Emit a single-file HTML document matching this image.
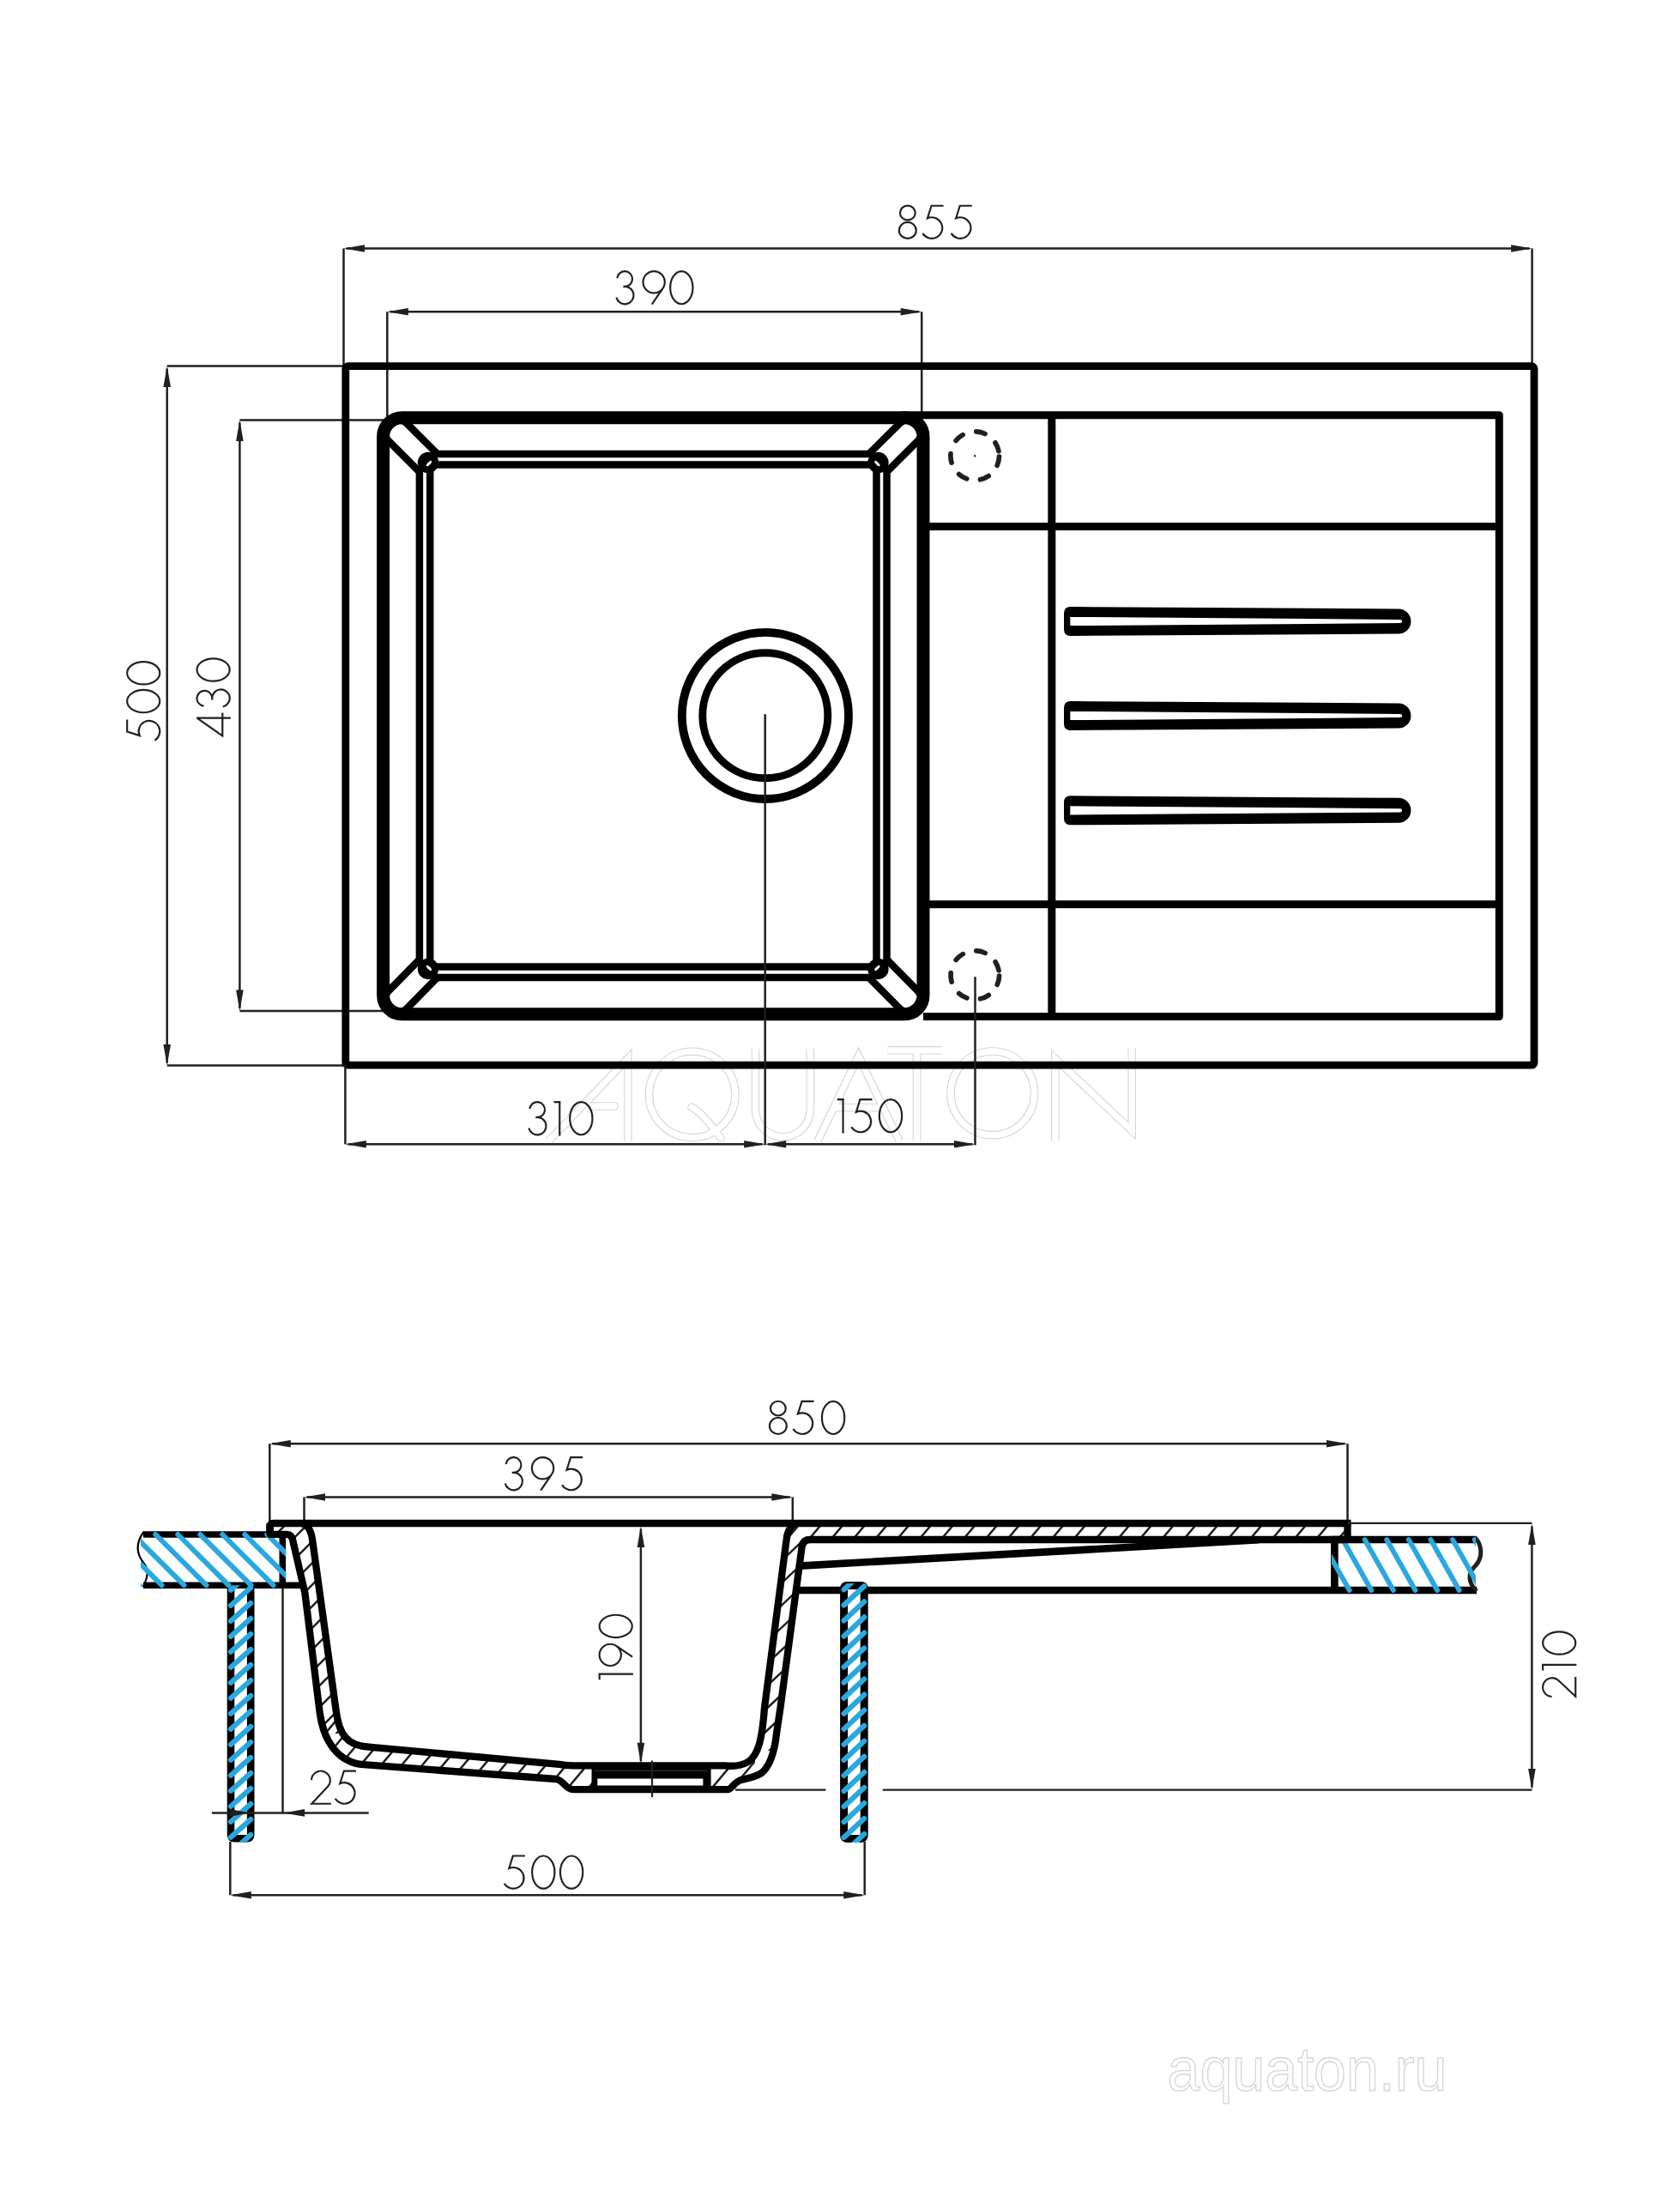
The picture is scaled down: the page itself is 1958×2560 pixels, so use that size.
<!DOCTYPE html><html><head><meta charset="utf-8"><title>Sink drawing</title><style>html,body{margin:0;padding:0;background:#fff;width:1958px;height:2560px;overflow:hidden}</style></head><body><svg width="1958" height="2560" viewBox="0 0 1958 2560" style="display:block"><g fill="none" stroke="#d6d6d6" stroke-width="9.6" stroke-linejoin="miter" stroke-miterlimit="10"><path d="M639.5,1329.5 L731.8,1233.3 V1329.5" stroke-linecap="butt"/><path d="M689,1289 H716" stroke-linecap="round"/><path d="M756.5,1275.4 a50.2,50.2 0 1 0 100.4,0 a50.2,50.2 0 1 0 -100.4,0" stroke-linecap="butt"/><path d="M806,1290 Q818,1296 840,1326" stroke-linecap="round"/><path d="M880.5,1222.3 V1292.8 A31.95,31.95 0 0 0 944.4,1292.8 V1222.3" stroke-linecap="butt"/><path d="M953,1329.5 L1000.6,1230.6 L1048,1329.5" stroke-linecap="butt"/><path d="M972,1290.5 H1029" stroke-linecap="butt"/><path d="M1034.5,1223.8 H1098 M1068.6,1223.8 V1329.5" stroke-linecap="butt"/><path d="M1107.9,1273.8 a48.8,48.8 0 1 0 97.6,0 a48.8,48.8 0 1 0 -97.6,0" stroke-linecap="butt"/><path d="M1229.9,1329.5 V1233.5 L1319.2,1317.5 V1221.4" stroke-linecap="butt"/></g>
<g fill="none" stroke="#fff" stroke-width="7.3" stroke-linejoin="miter" stroke-miterlimit="10"><path d="M639.5,1329.5 L731.8,1233.3 V1329.5" stroke-linecap="butt"/><path d="M689,1289 H716" stroke-linecap="round"/><path d="M756.5,1275.4 a50.2,50.2 0 1 0 100.4,0 a50.2,50.2 0 1 0 -100.4,0" stroke-linecap="butt"/><path d="M806,1290 Q818,1296 840,1326" stroke-linecap="round"/><path d="M880.5,1222.3 V1292.8 A31.95,31.95 0 0 0 944.4,1292.8 V1222.3" stroke-linecap="butt"/><path d="M953,1329.5 L1000.6,1230.6 L1048,1329.5" stroke-linecap="butt"/><path d="M972,1290.5 H1029" stroke-linecap="butt"/><path d="M1034.5,1223.8 H1098 M1068.6,1223.8 V1329.5" stroke-linecap="butt"/><path d="M1107.9,1273.8 a48.8,48.8 0 1 0 97.6,0 a48.8,48.8 0 1 0 -97.6,0" stroke-linecap="butt"/><path d="M1229.9,1329.5 V1233.5 L1319.2,1317.5 V1221.4" stroke-linecap="butt"/></g>
<text x="1360.5" y="2435.5" font-family="&quot;Liberation Sans&quot;, sans-serif" font-size="73" fill="none" stroke="#d6d6d6" stroke-width="1.4" textLength="326" lengthAdjust="spacingAndGlyphs">aquaton.ru</text>
<line x1="400.5" y1="289.5" x2="400.5" y2="440" stroke="#231f20" stroke-width="2.5"/>
<line x1="1785.6" y1="289.5" x2="1785.6" y2="440" stroke="#231f20" stroke-width="2.5"/>
<line x1="403.5" y1="289.5" x2="1782.6" y2="289.5" stroke="#231f20" stroke-width="2.5"/>
<path d="M400.5,289.5 L425,285.2 L425,293.8 Z" fill="#231f20"/>
<path d="M1785.6,289.5 L1761.1,293.8 L1761.1,285.2 Z" fill="#231f20"/>
<g transform="translate(0,238.6)" fill="none" stroke="#231f20" stroke-width="2.15" stroke-miterlimit="3"><path transform="translate(1046.8,0)" d="M2.15,9.45 a8.9,8.35 0 1 0 17.8,0 a8.9,8.35 0 1 0 -17.8,0 M1.1,29.8 a9.95,9.5 0 1 0 19.9,0 a9.95,9.5 0 1 0 -19.9,0"/><path transform="translate(1074.3,0)" d="M25.3,1.15 H10.4 M11.25,1.15 L6.65,15.71 A12.3,12.3 0 1 1 1.11,33.28"/><path transform="translate(1107.5,0)" d="M25.3,1.15 H10.4 M11.25,1.15 L6.65,15.71 A12.3,12.3 0 1 1 1.11,33.28"/></g>
<line x1="451.3" y1="363.3" x2="451.3" y2="518" stroke="#231f20" stroke-width="2.5"/>
<line x1="1074.2" y1="363.3" x2="1074.2" y2="518" stroke="#231f20" stroke-width="2.5"/>
<line x1="454.3" y1="363.3" x2="1071.2" y2="363.3" stroke="#231f20" stroke-width="2.5"/>
<path d="M451.3,363.3 L475.8,359 L475.8,367.6 Z" fill="#231f20"/>
<path d="M1074.2,363.3 L1049.7,367.6 L1049.7,359 Z" fill="#231f20"/>
<g transform="translate(0,315)" fill="none" stroke="#231f20" stroke-width="2.15" stroke-miterlimit="3"><path transform="translate(717.1,0)" d="M2.15,9.07 A8.9,8.9 0 1 1 10.22,18.87 L9.3,19.2 L10.31,18.94 A10.2,10.2 0 1 1 1.26,31.39"/><path transform="translate(748.2,0)" d="M1.3,13.75 a12.65,12.65 0 1 0 25.3,0 a12.65,12.65 0 1 0 -25.3,0 M23.92,21.54 L11.6,39.6"/><path transform="translate(780,0)" d="M1.15,20.2 a13.15,19.05 0 1 0 26.3,0 a13.15,19.05 0 1 0 -26.3,0"/></g>
<line x1="194.7" y1="426.5" x2="402" y2="426.5" stroke="#231f20" stroke-width="2.5"/>
<line x1="194.7" y1="1241.5" x2="402" y2="1241.5" stroke="#231f20" stroke-width="2.5"/>
<line x1="194.7" y1="429.5" x2="194.7" y2="1238.5" stroke="#231f20" stroke-width="2.5"/>
<path d="M194.7,426.5 L199,451 L190.4,451 Z" fill="#231f20"/>
<path d="M194.7,1241.5 L190.4,1217 L199,1217 Z" fill="#231f20"/>
<g transform="translate(147,863.8) rotate(-90)" fill="none" stroke="#231f20" stroke-width="2.15" stroke-miterlimit="3"><path transform="translate(0,0)" d="M25.3,1.15 H10.4 M11.25,1.15 L6.65,15.71 A12.3,12.3 0 1 1 1.11,33.28"/><path transform="translate(32.4,0)" d="M1.15,20.2 a13.15,19.05 0 1 0 26.3,0 a13.15,19.05 0 1 0 -26.3,0"/><path transform="translate(65.2,0)" d="M1.15,20.2 a13.15,19.05 0 1 0 26.3,0 a13.15,19.05 0 1 0 -26.3,0"/></g>
<line x1="279.4" y1="489.6" x2="470" y2="489.6" stroke="#231f20" stroke-width="2.5"/>
<line x1="279.4" y1="1178.1" x2="470" y2="1178.1" stroke="#231f20" stroke-width="2.5"/>
<line x1="279.4" y1="492.6" x2="279.4" y2="1175.1" stroke="#231f20" stroke-width="2.5"/>
<path d="M279.4,489.6 L283.7,514.1 L275.1,514.1 Z" fill="#231f20"/>
<path d="M279.4,1178.1 L275.1,1153.6 L283.7,1153.6 Z" fill="#231f20"/>
<g transform="translate(228.4,858.6) rotate(-90)" fill="none" stroke="#231f20" stroke-width="2.15" stroke-miterlimit="3"><path transform="translate(0,0)" d="M28.1,30.9 H1.2 L21.9,1.2 M21.9,0.6 V40.4"/><path transform="translate(33.8,0)" d="M2.15,9.07 A8.9,8.9 0 1 1 10.22,18.87 L9.3,19.2 L10.31,18.94 A10.2,10.2 0 1 1 1.26,31.39"/><path transform="translate(63.8,0)" d="M1.15,20.2 a13.15,19.05 0 1 0 26.3,0 a13.15,19.05 0 1 0 -26.3,0"/></g>
<rect x="402.8" y="426.7" width="1385.2" height="814.5" rx="3" fill="none" stroke="#000" stroke-width="8.8"/>
<path d="M1050,483.7 H1747.3 V1184.5 H1076 M1225.8,483.7 V1184.5 M1076,613.6 H1747.3 M1076,1053.8 H1747.3" fill="none" stroke="#000" stroke-width="9.0" stroke-linejoin="round"/>
<path d="M1247.7,707 L1630,709.55 A14.45,14.45 0 0 1 1630,738.45 L1247.7,741 Q1240,741 1240,733.3 L1240,714.7 Q1240,707 1247.7,707 Z" fill="#000"/>
<path d="M1247.3,718.9 L1632,721.9 A2.1,2.1 0 0 1 1632,726.1 L1247.3,729.1 Z" fill="#fff"/>
<path d="M1247.7,817 L1630,819.55 A14.45,14.45 0 0 1 1630,848.45 L1247.7,851 Q1240,851 1240,843.3 L1240,824.7 Q1240,817 1247.7,817 Z" fill="#000"/>
<path d="M1247.3,828.9 L1632,831.9 A2.1,2.1 0 0 1 1632,836.1 L1247.3,839.1 Z" fill="#fff"/>
<path d="M1247.7,927.3 L1630,929.85 A14.45,14.45 0 0 1 1630,958.75 L1247.7,961.3 Q1240,961.3 1240,953.6 L1240,935 Q1240,927.3 1247.7,927.3 Z" fill="#000"/>
<path d="M1247.3,939.2 L1632,942.2 A2.1,2.1 0 0 1 1632,946.4 L1247.3,949.4 Z" fill="#fff"/>
<path d="M1137.78,502.94 A28.3,28.3 0 0 1 1148.07,505.51 M1114.11,513.51 A28.3,28.3 0 0 1 1122.18,506.62 M1109.04,539.14 A28.3,28.3 0 0 1 1108.02,528.59 M1126.75,557.88 A28.3,28.3 0 0 1 1117.6,552.53 M1152.15,554.58 A28.3,28.3 0 0 1 1142.42,558.81 M1164.48,532.14 A28.3,28.3 0 0 1 1162.15,542.48 M1159.99,515.87 A28.3,28.3 0 0 1 1163.96,525.7" fill="none" stroke="#231f20" stroke-width="5.7" stroke-linecap="round"/>
<path d="M1137.88,1107.94 A28.3,28.3 0 0 1 1148.17,1110.51 M1114.21,1118.51 A28.3,28.3 0 0 1 1122.28,1111.62 M1109.14,1144.14 A28.3,28.3 0 0 1 1108.12,1133.59 M1126.85,1162.88 A28.3,28.3 0 0 1 1117.7,1157.53 M1152.25,1159.58 A28.3,28.3 0 0 1 1142.52,1163.81 M1164.58,1137.14 A28.3,28.3 0 0 1 1162.25,1147.48 M1160.09,1120.87 A28.3,28.3 0 0 1 1164.06,1130.7" fill="none" stroke="#231f20" stroke-width="5.7" stroke-linecap="round"/>
<circle cx="1136.2" cy="531.2" r="1.2" fill="#231f20"/>
<rect x="488.9" y="529" width="544.6" height="610" fill="none" stroke="#000" stroke-width="8.5"/>
<rect x="501.2" y="541.5" width="520.3" height="585" fill="none" stroke="#000" stroke-width="8.5"/>
<line x1="463.3" y1="503.4" x2="498.94" y2="539.04" stroke="#000" stroke-width="38"/>
<circle cx="463.3" cy="503.4" r="19" fill="#000"/>
<line x1="463.3" y1="503.4" x2="498.94" y2="539.04" stroke="#fff" stroke-width="21" stroke-linecap="round"/>
<circle cx="498.94" cy="539.04" r="12.2" fill="#000"/>
<ellipse cx="500" cy="540.1" rx="4.2" ry="1.5" transform="rotate(135 500 540.1)" fill="#fff"/>
<line x1="1059.3" y1="503.4" x2="1023.46" y2="539.04" stroke="#000" stroke-width="38"/>
<circle cx="1059.3" cy="503.4" r="19" fill="#000"/>
<line x1="1059.3" y1="503.4" x2="1023.46" y2="539.04" stroke="#fff" stroke-width="21" stroke-linecap="round"/>
<circle cx="1023.46" cy="539.04" r="12.2" fill="#000"/>
<ellipse cx="1022.4" cy="540.1" rx="4.2" ry="1.5" transform="rotate(225 1022.4 540.1)" fill="#fff"/>
<line x1="463.3" y1="1165.1" x2="498.94" y2="1128.96" stroke="#000" stroke-width="38"/>
<circle cx="463.3" cy="1165.1" r="19" fill="#000"/>
<line x1="463.3" y1="1165.1" x2="498.94" y2="1128.96" stroke="#fff" stroke-width="21" stroke-linecap="round"/>
<circle cx="498.94" cy="1128.96" r="12.2" fill="#000"/>
<ellipse cx="500" cy="1127.9" rx="4.2" ry="1.5" transform="rotate(45 500 1127.9)" fill="#fff"/>
<line x1="1059.3" y1="1165.1" x2="1023.46" y2="1128.96" stroke="#000" stroke-width="38"/>
<circle cx="1059.3" cy="1165.1" r="19" fill="#000"/>
<line x1="1059.3" y1="1165.1" x2="1023.46" y2="1128.96" stroke="#fff" stroke-width="21" stroke-linecap="round"/>
<circle cx="1023.46" cy="1128.96" r="12.2" fill="#000"/>
<ellipse cx="1022.4" cy="1127.9" rx="4.2" ry="1.5" transform="rotate(-45 1022.4 1127.9)" fill="#fff"/>
<rect x="446.6" y="486.7" width="629.4" height="695.1" rx="22" fill="none" stroke="#000" stroke-width="15"/>
<circle cx="891.9" cy="833.9" r="97.1" fill="none" stroke="#000" stroke-width="9.8"/>
<circle cx="891.8" cy="833.8" r="73.0" fill="none" stroke="#000" stroke-width="8.9"/>
<line x1="402.4" y1="1241" x2="402.4" y2="1333.3" stroke="#231f20" stroke-width="2.5"/>
<line x1="891.7" y1="833.3" x2="891.7" y2="1333.3" stroke="#231f20" stroke-width="2.5" stroke-linecap="round"/>
<line x1="1136.5" y1="1139.3" x2="1136.5" y2="1333.3" stroke="#231f20" stroke-width="2.5" stroke-linecap="round"/>
<line x1="405.4" y1="1333.3" x2="888.7" y2="1333.3" stroke="#231f20" stroke-width="2.5"/>
<path d="M402.4,1333.3 L426.9,1329 L426.9,1337.6 Z" fill="#231f20"/>
<path d="M891.7,1333.3 L867.2,1337.6 L867.2,1329 Z" fill="#231f20"/>
<line x1="894.7" y1="1333.3" x2="1133.5" y2="1333.3" stroke="#231f20" stroke-width="2.5"/>
<path d="M891.7,1333.3 L916.2,1329 L916.2,1337.6 Z" fill="#231f20"/>
<path d="M1136.5,1333.3 L1112,1337.6 L1112,1329 Z" fill="#231f20"/>
<g transform="translate(0,1283)" fill="none" stroke="#231f20" stroke-width="2.15" stroke-miterlimit="3"><path transform="translate(615.1,0)" d="M2.15,9.07 A8.9,8.9 0 1 1 10.22,18.87 L9.3,19.2 L10.31,18.94 A10.2,10.2 0 1 1 1.26,31.39"/><path transform="translate(645.5,0)" d="M0,1.15 H7.9 M6.75,0 V40.4"/><path transform="translate(663,0)" d="M1.15,20.2 a13.15,19.05 0 1 0 26.3,0 a13.15,19.05 0 1 0 -26.3,0"/></g>
<g transform="translate(0,1280)" fill="none" stroke="#231f20" stroke-width="2.15" stroke-miterlimit="3"><path transform="translate(975.8,0)" d="M0,1.15 H7.9 M6.75,0 V40.4"/><path transform="translate(991.2,0)" d="M25.3,1.15 H10.4 M11.25,1.15 L6.65,15.71 A12.3,12.3 0 1 1 1.11,33.28"/><path transform="translate(1023.7,0)" d="M1.15,20.2 a13.15,19.05 0 1 0 26.3,0 a13.15,19.05 0 1 0 -26.3,0"/></g>
<defs><clipPath id="cpSink"><path clip-rule="evenodd" d="M311,1775 H1570.5 V1794 H945 Q935.5,1794 934.5,1803 L909.5,1990 L905.2,2018.6 C903,2040 897,2058 887.6,2066 C880,2071 870,2072.5 863.8,2074 C856,2076 853,2085 848,2085.2 H668 C659,2085.2 657,2074 648,2073 L423.8,2056.2 C395,2054 377,2030 372.6,1995 L355.3,1855.6 L341.5,1796 Q340.5,1788 334,1787.8 H311 Z M351,1775 Q362,1777 364.2,1795 L391.5,1992 C395,2022 405,2034 430,2035.7 L652,2055.8 Q658,2057.3 668,2057.3 H845 C855,2058.5 864,2057.5 872,2053 C884,2045 888.5,2025 891,1990 L916.6,1794 Q918,1779.5 928,1775 Z"/></clipPath><clipPath id="cpCtL"><rect x="164" y="1780" width="169.3" height="75"/></clipPath><clipPath id="cpCtR"><rect x="1552" y="1780" width="168" height="80"/></clipPath><clipPath id="cpWL"><rect x="260" y="1847.2" width="40" height="299"/></clipPath><clipPath id="cpWR"><rect x="975" y="1845" width="40" height="302"/></clipPath><clipPath id="cpA"><rect x="300" y="1770" width="110" height="250"/></clipPath><clipPath id="cpB"><rect x="380" y="2005" width="500" height="100"/></clipPath><clipPath id="cpC"><rect x="880" y="1790" width="60" height="250"/></clipPath><clipPath id="cpD"><rect x="900" y="1770" width="680" height="30"/></clipPath></defs>
<line x1="314.3" y1="1682.3" x2="314.3" y2="1776" stroke="#231f20" stroke-width="2.5"/>
<line x1="1570.5" y1="1682.3" x2="1570.5" y2="1776" stroke="#231f20" stroke-width="2.5"/>
<line x1="317.3" y1="1682.3" x2="1567.5" y2="1682.3" stroke="#231f20" stroke-width="2.5"/>
<path d="M314.3,1682.3 L338.8,1678 L338.8,1686.6 Z" fill="#231f20"/>
<path d="M1570.5,1682.3 L1546,1686.6 L1546,1678 Z" fill="#231f20"/>
<g transform="translate(0,1631.7)" fill="none" stroke="#231f20" stroke-width="2.15" stroke-miterlimit="3"><path transform="translate(895.8,0)" d="M2.15,9.45 a8.9,8.35 0 1 0 17.8,0 a8.9,8.35 0 1 0 -17.8,0 M1.1,29.8 a9.95,9.5 0 1 0 19.9,0 a9.95,9.5 0 1 0 -19.9,0"/><path transform="translate(923.3,0)" d="M25.3,1.15 H10.4 M11.25,1.15 L6.65,15.71 A12.3,12.3 0 1 1 1.11,33.28"/><path transform="translate(956.8,0)" d="M1.15,20.2 a13.15,19.05 0 1 0 26.3,0 a13.15,19.05 0 1 0 -26.3,0"/></g>
<line x1="354.5" y1="1744.5" x2="354.5" y2="1778" stroke="#231f20" stroke-width="2.5"/>
<line x1="923.8" y1="1744.5" x2="923.8" y2="1778" stroke="#231f20" stroke-width="2.5"/>
<line x1="357.5" y1="1744.5" x2="920.8" y2="1744.5" stroke="#231f20" stroke-width="2.5"/>
<path d="M354.5,1744.5 L379,1740.2 L379,1748.8 Z" fill="#231f20"/>
<path d="M923.8,1744.5 L899.3,1748.8 L899.3,1740.2 Z" fill="#231f20"/>
<g transform="translate(0,1697)" fill="none" stroke="#231f20" stroke-width="2.15" stroke-miterlimit="3"><path transform="translate(587.5,0)" d="M2.15,9.07 A8.9,8.9 0 1 1 10.22,18.87 L9.3,19.2 L10.31,18.94 A10.2,10.2 0 1 1 1.26,31.39"/><path transform="translate(618.6,0)" d="M1.3,13.75 a12.65,12.65 0 1 0 25.3,0 a12.65,12.65 0 1 0 -25.3,0 M23.92,21.54 L11.6,39.6"/><path transform="translate(653.9,0)" d="M25.3,1.15 H10.4 M11.25,1.15 L6.65,15.71 A12.3,12.3 0 1 1 1.11,33.28"/></g>
<g clip-path="url(#cpSink)">
<g clip-path="url(#cpA)"><path d="M6.93,2027.07 l278.28,-278.28 M32.13,2027.07 l278.28,-278.28 M57.33,2027.07 l278.28,-278.28 M82.53,2027.07 l278.28,-278.28 M107.73,2027.07 l278.28,-278.28 M132.93,2027.07 l278.28,-278.28 M158.13,2027.07 l278.28,-278.28 M183.33,2027.07 l278.28,-278.28 M208.53,2027.07 l278.28,-278.28 M233.73,2027.07 l278.28,-278.28 M258.93,2027.07 l278.28,-278.28 M284.13,2027.07 l278.28,-278.28 M309.33,2027.07 l278.28,-278.28 M334.53,2027.07 l278.28,-278.28 M359.73,2027.07 l278.28,-278.28 M384.93,2027.07 l278.28,-278.28 M410.13,2027.07 l278.28,-278.28 M435.33,2027.07 l278.28,-278.28" stroke="#1e1e1e" stroke-width="2.5" fill="none"/></g>
<g clip-path="url(#cpB)"><path d="M253.23,2112.66 l109.62,-130.64 M277.23,2112.66 l109.62,-130.64 M301.23,2112.66 l109.62,-130.64 M325.23,2112.66 l109.62,-130.64 M349.23,2112.66 l109.62,-130.64 M373.23,2112.66 l109.62,-130.64 M397.23,2112.66 l109.62,-130.64 M421.23,2112.66 l109.62,-130.64 M445.23,2112.66 l109.62,-130.64 M469.23,2112.66 l109.62,-130.64 M493.23,2112.66 l109.62,-130.64 M517.23,2112.66 l109.62,-130.64 M541.23,2112.66 l109.62,-130.64 M565.23,2112.66 l109.62,-130.64 M589.23,2112.66 l109.62,-130.64 M613.23,2112.66 l109.62,-130.64 M637.23,2112.66 l109.62,-130.64 M661.23,2112.66 l109.62,-130.64 M685.23,2112.66 l109.62,-130.64 M709.23,2112.66 l109.62,-130.64 M733.23,2112.66 l109.62,-130.64 M757.23,2112.66 l109.62,-130.64 M781.23,2112.66 l109.62,-130.64 M805.23,2112.66 l109.62,-130.64 M829.23,2112.66 l109.62,-130.64 M853.23,2112.66 l109.62,-130.64 M877.23,2112.66 l109.62,-130.64 M901.23,2112.66 l109.62,-130.64" stroke="#1e1e1e" stroke-width="2.5" fill="none"/></g>
<g clip-path="url(#cpC)"><path d="M554.44,2046.82 l297.35,-277.28 M582.34,2046.82 l297.35,-277.28 M610.24,2046.82 l297.35,-277.28 M638.14,2046.82 l297.35,-277.28 M666.04,2046.82 l297.35,-277.28 M693.94,2046.82 l297.35,-277.28 M721.84,2046.82 l297.35,-277.28 M749.74,2046.82 l297.35,-277.28 M777.64,2046.82 l297.35,-277.28 M805.54,2046.82 l297.35,-277.28 M833.44,2046.82 l297.35,-277.28 M861.34,2046.82 l297.35,-277.28 M889.24,2046.82 l297.35,-277.28 M917.14,2046.82 l297.35,-277.28 M945.04,2046.82 l297.35,-277.28 M972.94,2046.82 l297.35,-277.28" stroke="#1e1e1e" stroke-width="2.5" fill="none"/></g>
<g clip-path="url(#cpD)"><path d="M828.19,1807.66 l50.88,-60.64 M853.89,1807.66 l50.88,-60.64 M879.59,1807.66 l50.88,-60.64 M905.29,1807.66 l50.88,-60.64 M930.99,1807.66 l50.88,-60.64 M956.69,1807.66 l50.88,-60.64 M982.39,1807.66 l50.88,-60.64 M1008.09,1807.66 l50.88,-60.64 M1033.79,1807.66 l50.88,-60.64 M1059.49,1807.66 l50.88,-60.64 M1085.19,1807.66 l50.88,-60.64 M1110.89,1807.66 l50.88,-60.64 M1136.59,1807.66 l50.88,-60.64 M1162.29,1807.66 l50.88,-60.64 M1187.99,1807.66 l50.88,-60.64 M1213.69,1807.66 l50.88,-60.64 M1239.39,1807.66 l50.88,-60.64 M1265.09,1807.66 l50.88,-60.64 M1290.79,1807.66 l50.88,-60.64 M1316.49,1807.66 l50.88,-60.64 M1342.19,1807.66 l50.88,-60.64 M1367.89,1807.66 l50.88,-60.64 M1393.59,1807.66 l50.88,-60.64 M1419.29,1807.66 l50.88,-60.64 M1444.99,1807.66 l50.88,-60.64 M1470.69,1807.66 l50.88,-60.64 M1496.39,1807.66 l50.88,-60.64 M1522.09,1807.66 l50.88,-60.64 M1547.79,1807.66 l50.88,-60.64 M1573.49,1807.66 l50.88,-60.64 M1599.19,1807.66 l50.88,-60.64 M1624.89,1807.66 l50.88,-60.64" stroke="#1e1e1e" stroke-width="2.5" fill="none"/></g>
</g>
<path d="M167,1788 H325 Q329.3,1788 329.3,1792 V1847.2 M167,1847.2 H350" fill="none" stroke="#000" stroke-width="7.6"/>
<path d="M167.5,1785 C158,1798 159,1811 168,1822 C175,1831 171,1841 166.5,1849" fill="none" stroke="#000" stroke-width="2.2"/>
<path d="M1555.4,1794 V1853 M1552,1794 H1719 M930,1853 H1721" fill="none" stroke="#000" stroke-width="8.6"/>
<path d="M1718.5,1791 C1728,1800 1728,1815 1720,1824 C1709,1834 1712,1845 1721,1854" fill="none" stroke="#231f20" stroke-width="5"/>
<path d="M269,1847 V2138 Q269,2142.3 273,2142.3 H288.2 Q292.2,2142.3 292.2,2138 V1847" fill="none" stroke="#000" stroke-width="8.6"/>
<path d="M983.6,2138.5 V1851 Q983.6,1847.4 987.2,1847.4 H1003.6 Q1007.2,1847.4 1007.2,1851 V2138.5 Q1007.2,2142.4 1003.6,2142.4 H987.2 Q983.6,2142.4 983.6,2138.5 Z" fill="#fff" stroke="#000" stroke-width="9"/>
<g clip-path="url(#cpCtL)"><path d="M-0.7,1788 l59.2,59.2 M25.3,1788 l59.2,59.2 M51.3,1788 l59.2,59.2 M77.3,1788 l59.2,59.2 M103.3,1788 l59.2,59.2 M129.3,1788 l59.2,59.2 M155.3,1788 l59.2,59.2 M181.3,1788 l59.2,59.2 M207.3,1788 l59.2,59.2 M233.3,1788 l59.2,59.2 M259.3,1788 l59.2,59.2 M285.3,1788 l59.2,59.2 M311.3,1788 l59.2,59.2 M337.3,1788 l59.2,59.2" stroke="#29a8e0" stroke-width="6" stroke-linecap="round" fill="none"/></g>
<g clip-path="url(#cpCtR)"><path d="M1488.2,1794 l33.3,59 M1513.8,1794 l33.3,59 M1539.4,1794 l33.3,59 M1565,1794 l33.3,59 M1590.6,1794 l33.3,59 M1616.2,1794 l33.3,59 M1641.8,1794 l33.3,59 M1667.4,1794 l33.3,59 M1693,1794 l33.3,59 M1718.6,1794 l33.3,59" stroke="#29a8e0" stroke-width="5.8" stroke-linecap="round" fill="none"/></g>
<g clip-path="url(#cpWL)"><path d="M292.2,1832 l-23.2,20.8 M292.2,1850 l-23.2,20.8 M292.2,1868 l-23.2,20.8 M292.2,1886 l-23.2,20.8 M292.2,1904 l-23.2,20.8 M292.2,1922 l-23.2,20.8 M292.2,1940 l-23.2,20.8 M292.2,1958 l-23.2,20.8 M292.2,1976 l-23.2,20.8 M292.2,1994 l-23.2,20.8 M292.2,2012 l-23.2,20.8 M292.2,2030 l-23.2,20.8 M292.2,2048 l-23.2,20.8 M292.2,2066 l-23.2,20.8 M292.2,2084 l-23.2,20.8 M292.2,2102 l-23.2,20.8 M292.2,2120 l-23.2,20.8 M292.2,2138 l-23.2,20.8 M292.2,2156 l-23.2,20.8" stroke="#29a8e0" stroke-width="6.2" stroke-linecap="round" fill="none"/></g>
<g clip-path="url(#cpWR)"><path d="M1007.2,1830.25 l-23.6,22 M1007.2,1848.3 l-23.6,22 M1007.2,1866.35 l-23.6,22 M1007.2,1884.4 l-23.6,22 M1007.2,1902.45 l-23.6,22 M1007.2,1920.5 l-23.6,22 M1007.2,1938.55 l-23.6,22 M1007.2,1956.6 l-23.6,22 M1007.2,1974.65 l-23.6,22 M1007.2,1992.7 l-23.6,22 M1007.2,2010.75 l-23.6,22 M1007.2,2028.8 l-23.6,22 M1007.2,2046.85 l-23.6,22 M1007.2,2064.9 l-23.6,22 M1007.2,2082.95 l-23.6,22 M1007.2,2101 l-23.6,22 M1007.2,2119.05 l-23.6,22 M1007.2,2137.1 l-23.6,22 M1007.2,2155.15 l-23.6,22" stroke="#29a8e0" stroke-width="6.2" stroke-linecap="round" fill="none"/></g>
<path d="M932,1824.6 L1467,1794.3" fill="none" stroke="#000" stroke-width="8.6"/>
<path d="M314.6,1775 V1787.8 H334 Q340.5,1788 341.5,1796 L355.3,1855.6 L372.6,1995 C377,2030 395,2054 423.8,2056.2 L648,2073 C657,2074 659,2085.2 668,2085.2 H848 C853,2085 856,2076 863.8,2074 C870,2072.5 880,2071 887.6,2066 C897,2058 903,2040 905.2,2018.6 L909.5,1990 L934.5,1803 Q935.5,1794 945,1794 H1570.5 V1775" fill="none" stroke="#000" stroke-width="8.3" stroke-linejoin="round"/>
<path d="M351,1775 Q362,1777 364.2,1795 L391.5,1992 C395,2022 405,2034 430,2035.7 L652,2055.8 Q658,2057.3 668,2057.3 H845 C855,2058.5 864,2057.5 872,2053 C884,2045 888.5,2025 891,1990 L916.6,1794 Q918,1779.5 928,1775" fill="none" stroke="#000" stroke-width="8.3" stroke-linejoin="round"/>
<path d="M314.6,1787 V1779 Q314.6,1775 318.6,1775 H1574.5" fill="none" stroke="#000" stroke-width="8.4"/>
<path d="M689.5,2061 H828.6 V2085 H689.5 Z" fill="#000"/>
<path d="M696.3,2072.6 V2080.4 H819.4 V2072.6 Z" fill="#fff"/>
<path d="M693,2063.2 H825" stroke="#555" stroke-width="0.7" fill="none"/>
<line x1="760" y1="2052.4" x2="760" y2="2093.3" stroke="#231f20" stroke-width="2.2" stroke-linecap="round"/>
<line x1="746.9" y1="1781.5" x2="746.9" y2="2052.2" stroke="#231f20" stroke-width="2.5"/>
<path d="M746.9,1778.5 L751.2,1803 L742.6,1803 Z" fill="#231f20"/>
<path d="M746.9,2055.2 L742.6,2030.7 L751.2,2030.7 Z" fill="#231f20"/>
<g transform="translate(697.5,1957.3) rotate(-90)" fill="none" stroke="#231f20" stroke-width="2.15" stroke-miterlimit="3"><path transform="translate(0,0)" d="M0,1.15 H7.9 M6.75,0 V40.4"/><path transform="translate(15,0)" d="M1.3,13.75 a12.65,12.65 0 1 0 25.3,0 a12.65,12.65 0 1 0 -25.3,0 M23.92,21.54 L11.6,39.6"/><path transform="translate(48.1,0)" d="M1.15,20.2 a13.15,19.05 0 1 0 26.3,0 a13.15,19.05 0 1 0 -26.3,0"/></g>
<line x1="1570.5" y1="1774.8" x2="1785.4" y2="1774.8" stroke="#231f20" stroke-width="2.3"/>
<line x1="857" y1="2085.6" x2="962.4" y2="2085.6" stroke="#231f20" stroke-width="2.3"/>
<line x1="1028.7" y1="2085.6" x2="1785.4" y2="2085.6" stroke="#231f20" stroke-width="2.3"/>
<line x1="1785.4" y1="1778.5" x2="1785.4" y2="2082.6" stroke="#231f20" stroke-width="2.5"/>
<path d="M1785.4,1775.5 L1789.7,1800 L1781.1,1800 Z" fill="#231f20"/>
<path d="M1785.4,2085.6 L1781.1,2061.1 L1789.7,2061.1 Z" fill="#231f20"/>
<g transform="translate(1797,1978.1) rotate(-90)" fill="none" stroke="#231f20" stroke-width="2.15" stroke-miterlimit="3"><path transform="translate(0,0)" d="M1.11,11.62 A10.9,10.9 0 1 1 20.1,19.29 L1.4,39.25 H24"/><path transform="translate(31.5,0)" d="M0,1.15 H7.9 M6.75,0 V40.4"/><path transform="translate(49.3,0)" d="M1.15,20.2 a13.15,19.05 0 1 0 26.3,0 a13.15,19.05 0 1 0 -26.3,0"/></g>
<line x1="329.5" y1="1851" x2="329.5" y2="2112.4" stroke="#231f20" stroke-width="2.5"/>
<line x1="246.9" y1="2112.4" x2="429.7" y2="2112.4" stroke="#231f20" stroke-width="2.5"/>
<path d="M292,2112.4 L267.5,2116.7 L267.5,2108.1 Z" fill="#231f20"/>
<path d="M330.6,2112.4 L355.1,2108.1 L355.1,2116.7 Z" fill="#231f20"/>
<g transform="translate(0,2062.5)" fill="none" stroke="#231f20" stroke-width="2.15" stroke-miterlimit="3"><path transform="translate(361.9,0)" d="M1.11,11.62 A10.9,10.9 0 1 1 20.1,19.29 L1.4,39.25 H24"/><path transform="translate(389.6,0)" d="M25.3,1.15 H10.4 M11.25,1.15 L6.65,15.71 A12.3,12.3 0 1 1 1.11,33.28"/></g>
<line x1="268.3" y1="2146" x2="268.3" y2="2208.2" stroke="#231f20" stroke-width="2.5"/>
<line x1="1007.7" y1="2146" x2="1007.7" y2="2208.2" stroke="#231f20" stroke-width="2.5"/>
<line x1="271.3" y1="2208.2" x2="1004.7" y2="2208.2" stroke="#231f20" stroke-width="2.5"/>
<path d="M268.3,2208.2 L292.8,2203.9 L292.8,2212.5 Z" fill="#231f20"/>
<path d="M1007.7,2208.2 L983.2,2212.5 L983.2,2203.9 Z" fill="#231f20"/>
<g transform="translate(0,2161.4)" fill="none" stroke="#231f20" stroke-width="2.15" stroke-miterlimit="3"><path transform="translate(586.6,0)" d="M25.3,1.15 H10.4 M11.25,1.15 L6.65,15.71 A12.3,12.3 0 1 1 1.11,33.28"/><path transform="translate(619,0)" d="M1.15,20.2 a13.15,19.05 0 1 0 26.3,0 a13.15,19.05 0 1 0 -26.3,0"/><path transform="translate(651.8,0)" d="M1.15,20.2 a13.15,19.05 0 1 0 26.3,0 a13.15,19.05 0 1 0 -26.3,0"/></g></svg></body></html>
